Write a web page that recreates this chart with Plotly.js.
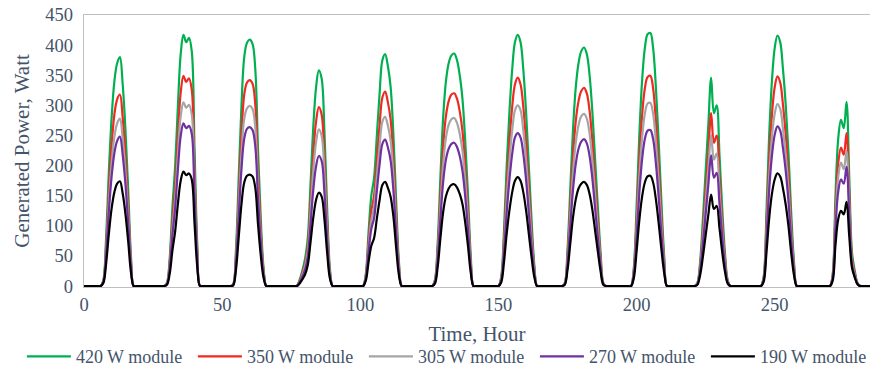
<!DOCTYPE html>
<html>
<head>
<meta charset="utf-8">
<script src="https://cdn.plot.ly/plotly-3.0.1.min.js"></script>
<style>
html,body{margin:0;padding:0;background:#fff;}
#chart{width:870px;height:375px;}
</style>
</head>
<body>
<div id="chart"></div>
<script>
// Hourly generated power (W), hour 0 .. 287
const seriesNames = ["420 W module", "350 W module", "305 W module", "270 W module", "190 W module"];

const p420 = [
0,0,0,0,0,0,0,10,80,190,280,340,370,380,335,260,160,50,0,0,0,0,0,0,
0,0,0,0,0,0,5,45,130,200,300,385,417,405,412,390,230,70,0,0,0,0,0,0,
0,0,0,0,0,0,3,60,180,300,380,404,409,402,360,225,110,30,0,0,0,0,0,0,
0,0,0,0,0,0,10,25,45,80,170,265,330,358,345,260,130,30,0,0,0,0,0,0,
0,0,0,0,0,0,20,90,150,180,250,320,375,385,365,330,250,140,40,0,0,0,0,0,
0,0,0,0,0,0,0,10,70,180,280,340,370,383,386,375,350,310,240,150,50,0,0,0,
0,0,0,0,0,0,0,15,90,200,290,360,405,417,405,360,290,200,110,35,0,0,0,0,
0,0,0,0,0,0,5,60,160,260,330,370,390,396,385,350,290,210,130,55,5,0,0,0,
0,0,0,0,0,0,0,30,130,250,340,395,418,420,395,330,240,140,50,0,0,0,0,0,
0,0,0,0,0,0,5,40,110,190,270,346,287,300,220,130,55,10,0,0,0,0,0,0,
0,0,0,0,0,0,15,120,250,340,395,416,405,360,300,220,120,40,0,0,0,0,0,0,
0,0,0,0,0,0,0,20,150,245,276,262,306,180,55,25,5,0,0,0,0,0,0,0
];

const p350 = [
0,0,0,0,0,0,0,8,67,159,234,285,310,318,280,218,134,42,0,0,0,0,0,0,
0,0,0,0,0,0,4,38,109,167,251,321,349,339,345,326,192,58,0,0,0,0,0,0,
0,0,0,0,0,0,3,50,150,251,318,338,342,336,301,188,92,25,0,0,0,0,0,0,
0,0,0,0,0,0,8,21,37,66,141,219,273,297,285,215,108,25,0,0,0,0,0,0,
0,0,0,0,0,0,17,75,125,150,209,267,313,323,305,276,209,117,33,0,0,0,0,0,
0,0,0,0,0,0,0,8,58,149,232,282,307,318,320,311,290,257,199,124,41,0,0,0,
0,0,0,0,0,0,0,12,75,166,240,298,335,346,335,298,240,166,91,29,0,0,0,0,
0,0,0,0,0,0,4,50,133,216,274,307,324,329,320,291,241,174,108,46,4,0,0,0,
0,0,0,0,0,0,0,25,108,208,283,328,347,349,328,274,199,116,42,0,0,0,0,0,
0,0,0,0,0,0,4,33,91,158,224,287,238,250,183,108,46,8,0,0,0,0,0,0,
0,0,0,0,0,0,13,100,209,284,330,348,338,301,251,184,100,33,0,0,0,0,0,0,
0,0,0,0,0,0,0,17,125,204,230,218,254,150,46,21,4,0,0,0,0,0,0,0
];

const p305 = [
0,0,0,0,0,0,0,7,58,139,204,248,270,278,245,190,117,37,0,0,0,0,0,0,
0,0,0,0,0,0,4,33,95,146,220,282,305,296,301,285,168,51,0,0,0,0,0,0,
0,0,0,0,0,0,2,44,132,219,278,295,299,294,263,164,80,22,0,0,0,0,0,0,
0,0,0,0,0,0,7,18,33,58,123,192,239,260,250,188,94,22,0,0,0,0,0,0,
0,0,0,0,0,0,15,66,109,131,182,233,273,281,266,241,182,102,29,0,0,0,0,0,
0,0,0,0,0,0,0,7,51,130,202,246,268,277,279,271,253,224,174,108,36,0,0,0,
0,0,0,0,0,0,0,11,65,144,209,259,292,300,292,259,209,144,79,25,0,0,0,0,
0,0,0,0,0,0,4,43,116,188,238,267,282,286,278,253,209,152,94,40,4,0,0,0,
0,0,0,0,0,0,0,22,94,181,246,286,303,304,286,239,174,101,36,0,0,0,0,0,
0,0,0,0,0,0,4,29,80,138,196,251,210,220,160,94,40,7,0,0,0,0,0,0,
0,0,0,0,0,0,11,87,181,247,286,302,294,261,218,160,87,29,0,0,0,0,0,0,
0,0,0,0,0,0,0,15,111,181,205,194,224,132,40,18,4,0,0,0,0,0,0,0
];

const p270 = [
0,0,0,0,0,0,0,7,52,124,182,221,241,248,218,169,104,33,0,0,0,0,0,0,
0,0,0,0,0,0,3,29,84,130,194,249,270,262,266,253,149,45,0,0,0,0,0,0,
0,0,0,0,0,0,2,39,116,194,245,261,264,259,232,145,71,19,0,0,0,0,0,0,
0,0,0,0,0,0,6,15,27,48,103,160,199,216,208,157,79,18,0,0,0,0,0,0,
0,0,0,0,0,0,13,57,95,113,158,202,236,243,230,208,158,88,25,0,0,0,0,0,
0,0,0,0,0,0,0,6,43,111,173,210,228,236,238,231,216,191,148,93,31,0,0,0,
0,0,0,0,0,0,0,9,55,122,177,220,247,254,247,220,177,122,67,21,0,0,0,0,
0,0,0,0,0,0,3,37,99,160,203,228,240,244,237,216,179,129,80,34,3,0,0,0,
0,0,0,0,0,0,0,19,80,154,210,244,258,259,244,204,148,86,31,0,0,0,0,0,
0,0,0,0,0,0,3,25,69,119,169,217,180,188,138,82,34,6,0,0,0,0,0,0,
0,0,0,0,0,0,10,76,159,216,251,265,258,229,191,140,76,25,0,0,0,0,0,0,
0,0,0,0,0,0,0,13,96,157,177,170,198,116,35,16,3,0,0,0,0,0,0,0
];

const p190 = [
0,0,0,0,0,0,0,5,37,87,129,156,170,174,154,120,74,23,0,0,0,0,0,0,
0,0,0,0,0,0,2,20,59,91,137,175,190,184,187,177,105,32,0,0,0,0,0,0,
0,0,0,0,0,0,1,27,81,136,172,183,185,182,163,102,50,14,0,0,0,0,0,0,
0,0,0,0,0,0,4,11,19,35,73,114,143,155,149,112,56,13,0,0,0,0,0,0,
0,0,0,0,0,0,9,40,67,80,112,143,168,173,163,148,115,63,18,0,0,0,0,0,
0,0,0,0,0,0,0,4,31,79,123,149,162,168,169,164,153,136,105,66,22,0,0,0,
0,0,0,0,0,0,0,6,39,87,126,156,175,181,175,156,126,87,48,15,0,0,0,0,
0,0,0,0,0,0,2,26,70,114,144,162,170,173,168,153,127,92,57,24,2,0,0,0,
0,0,0,0,0,0,0,13,57,109,148,172,182,183,172,144,105,61,22,0,0,0,0,0,
0,0,0,0,0,0,2,18,48,84,119,152,128,133,97,57,24,4,0,0,0,0,0,0,
0,0,0,0,0,0,7,54,112,153,177,187,182,162,135,99,54,18,0,0,0,0,0,0,
0,0,0,0,0,0,0,9,68,111,125,119,140,82,30,14,3,0,0,0,0,0,0,0
];

const xTicks = [0, 50, 100, 150, 200, 250];
const yTicks = [0, 50, 100, 150, 200, 250, 300, 350, 400, 450];

const seriesValues = [p420, p350, p305, p270, p190];
const seriesColors = ["#00b050", "#ee2a22", "#a5a5a5", "#7030a0", "#000000"];

const FONT = "'Liberation Serif', 'Times New Roman', serif";
const TXT = "#44546a";

const traces = seriesValues.map((vals, i) => ({
  type: "scatter",
  mode: "lines",
  name: seriesNames[i],
  y: vals,
  x0: 0,
  dx: 1,
  line: {color: seriesColors[i], width: 2.2, shape: "spline", smoothing: 1},
  hoverinfo: "skip"
}));

const layout = {
  width: 870,
  height: 375,
  margin: {l: 84, r: 0, t: 15, b: 88, pad: 0, autoexpand: false},
  paper_bgcolor: "#ffffff",
  plot_bgcolor: "#ffffff",
  showlegend: true,
  font: {family: FONT, color: TXT},
  xaxis: {
    range: [0, 284.5],
    tickvals: xTicks,
    ticktext: xTicks.map(String),
    showgrid: false,
    zeroline: false,
    showline: true,
    mirror: true,
    linecolor: "#bfbfbf",
    linewidth: 1.3,
    ticks: "",
    ticklabelstandoff: 0,
    tickfont: {family: FONT, size: 18.5, color: TXT},
    title: {text: "Time, Hour", font: {family: FONT, size: 21, color: TXT}, standoff: 12}
  },
  yaxis: {
    range: [-1.5, 450],
    tickvals: yTicks,
    ticktext: yTicks.map(String),
    showgrid: false,
    zeroline: false,
    showline: true,
    linecolor: "#bfbfbf",
    linewidth: 1.3,
    ticks: "",
    ticklabelstandoff: 6,
    tickfont: {family: FONT, size: 18.5, color: TXT},
    title: {text: "Generated Power, Watt", font: {family: FONT, size: 21, color: TXT}, standoff: 10}
  },
  legend: {
    orientation: "h",
    x: -0.079,
    xanchor: "left",
    y: -0.256,
    yanchor: "middle",
    font: {family: FONT, size: 18, color: TXT},
    itemwidth: 44,
    entrywidth: 112,
    entrywidthmode: "pixels",
    bgcolor: "rgba(0,0,0,0)",
    traceorder: "normal"
  }
};

Plotly.newPlot("chart", traces, layout, {staticPlot: true, displayModeBar: false});
</script>
</body>
</html>
